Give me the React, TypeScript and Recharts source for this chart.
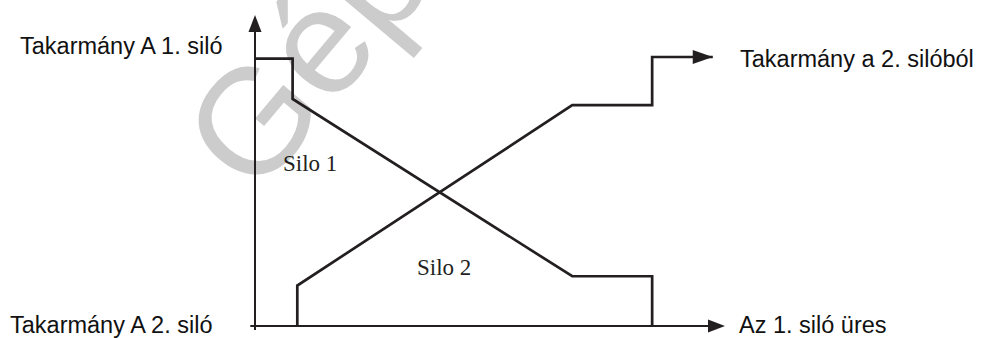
import { LineChart, Line, XAxis, YAxis, ReferenceLine } from "recharts";

// x: time (0 = start, 100 = end of the time arrow), y: feed level (0-100)
const silo1X = [0, 8, 8, 67.5, 84.5, 84.5];
const silo1Y = [86, 86, 73, 16, 16, 0];
const silo2X = [9, 9, 67.5, 84.5, 84.5, 97.4];
const silo2Y = [0, 13, 71, 71, 86.5, 86.5];

const yLabels = ["Takarmány A 1. siló", "Takarmány A 2. siló"];
const xLabels = ["Takarmány a 2. silóból", "Az 1. siló üres"];
const siloNames = ["Silo 1", "Silo 2"];
const watermark = "Gép";

const INK = "#231f20";
const SANS = "'Liberation Sans', Arial, sans-serif";
const SERIF = "'Liberation Serif', 'Times New Roman', serif";

const toPoints = (xs: number[], ys: number[]) => xs.map((x, i) => ({ x, y: ys[i] }));

const silo1 = toPoints(silo1X, silo1Y);
const silo2 = toPoints(silo2X, silo2Y);

// line with an arrow head at (x2, y2)
const ArrowLine = (props: any) => {
  const { x1, y1, x2, y2 } = props;
  const ang = Math.atan2(y2 - y1, x2 - x1);
  const len = 17;
  const half = 6.5;
  const bx = x2 - len * Math.cos(ang);
  const by = y2 - len * Math.sin(ang);
  const px = -Math.sin(ang) * half;
  const py = Math.cos(ang) * half;
  return (
    <g>
      <line x1={x1} y1={y1} x2={bx} y2={by} stroke={INK} strokeWidth={2} />
      <polygon points={`${x2},${y2} ${bx + px},${by + py} ${bx - px},${by - py}`} fill={INK} />
    </g>
  );
};

const EndArrow = (props: any) => {
  const { cx, cy, index } = props;
  if (index !== silo2.length - 1) return <g key={`d-${index}`} />;
  return (
    <polygon
      key={`d-${index}`}
      points={`${cx},${cy} ${cx - 20},${cy - 7} ${cx - 20},${cy + 7}`}
      fill={INK}
    />
  );
};

export default function App() {
  return (
    <div style={{ position: "absolute", left: 0, top: 0, width: 982, height: 338, background: "#fff" }}>
      <svg width={982} height={338} style={{ position: "absolute", left: 0, top: 0 }}>
        <text
          x={255}
          y={199}
          transform="rotate(-50 255 199)"
          fontFamily={SANS}
          fontSize={150}
          fill="#cccccc"
        >
          {watermark}
        </text>
      </svg>
      <div style={{ position: "absolute", left: 0, top: 0 }}>
        <LineChart width={982} height={338} margin={{ top: 15, right: 257, bottom: 12, left: 255 }}>
          <XAxis type="number" dataKey="x" domain={[0, 100]} hide />
          <YAxis type="number" dataKey="y" domain={[0, 100]} hide />
          <ReferenceLine
            segment={[{ x: 0, y: -1.3 }, { x: 0, y: 100 }]}
            ifOverflow="visible"
            shape={ArrowLine}
          />
          <ReferenceLine
            segment={[{ x: -1, y: 0 }, { x: 100, y: 0 }]}
            ifOverflow="visible"
            shape={ArrowLine}
          />
          <Line
            data={silo1}
            dataKey="y"
            type="linear"
            stroke={INK}
            strokeWidth={2.7}
            dot={false}
            activeDot={false}
            isAnimationActive={false}
          />
          <Line
            data={silo2}
            dataKey="y"
            type="linear"
            stroke={INK}
            strokeWidth={2.7}
            dot={EndArrow}
            activeDot={false}
            isAnimationActive={false}
          />
          <text x={20} y={54} fontFamily={SANS} fontSize={23.5} fill="#111">
            {yLabels[0]}
          </text>
          <text x={10} y={333} fontFamily={SANS} fontSize={23.5} fill="#111">
            {yLabels[1]}
          </text>
          <text x={740} y={67} fontFamily={SANS} fontSize={23.5} fill="#111">
            {xLabels[0]}
          </text>
          <text x={739} y={333} fontFamily={SANS} fontSize={23.5} fill="#111">
            {xLabels[1]}
          </text>
          <text x={283} y={171} fontFamily={SERIF} fontSize={23} fill={INK}>
            {siloNames[0]}
          </text>
          <text x={417} y={275} fontFamily={SERIF} fontSize={23} fill={INK}>
            {siloNames[1]}
          </text>
        </LineChart>
      </div>
    </div>
  );
}
